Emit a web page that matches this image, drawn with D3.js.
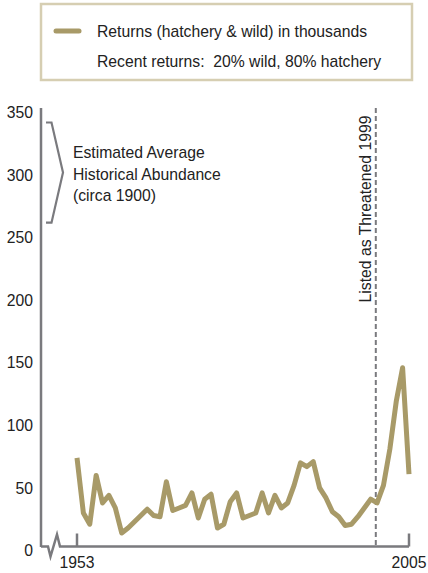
<!DOCTYPE html>
<html><head><meta charset="utf-8">
<script src="https://cdn.jsdelivr.net/npm/d3@7"></script>
<style>
html,body{margin:0;padding:0;background:#fff;}
text{font-family:"Liberation Sans",Arial,sans-serif;fill:#222;white-space:pre;}
</style></head>
<body>
<svg id="c" width="428" height="573"></svg>
<script>
// ---- data ----
const years = d3.range(1953, 2006);
const returns = [72,28,19,58,36,42,32,12,16,21,26,31,26,25,53,30,32,34,44,24,39,43,16,19,37,44,24,26,28,44,28,42,32,36,50,68,65,69,48,40,29,25,18,19,25,32,39,36,50,79,117,144,59];
const yTicks = [0,50,100,150,200,250,300,350];
const xTickLabels = [1953, 2005];
const listedYear = 1999;
const listedLineYear = 1999.8; // where the marker line sits on the year scale
const historicalRange = [260, 340];
const historicalMid = 300;
const legendLines = ["Returns (hatchery & wild) in thousands", "Recent returns:  20% wild, 80% hatchery"];
const annotationLines = ["Estimated Average", "Historical Abundance", "(circa 1900)"];

const svg = d3.select("#c");
const lineColor = "#a89a68", axisColor = "#7a7a7e";
const FS = 17, CONDENSE = 0.925;

const x = d3.scaleLinear().domain([1953, 2005]).range([77, 409]);
const y = d3.scaleLinear().domain([0, 350]).range([548, 110]);
const axisX = 41;

// legend
const lg = svg.append("g");
lg.append("rect").attr("x", 41).attr("y", 4).attr("width", 371).attr("height", 76)
  .attr("fill", "#fff").attr("stroke", "#d6ceb2").attr("stroke-width", 2.5);
lg.append("line").attr("x1", 56).attr("x2", 79).attr("y1", 31).attr("y2", 31)
  .attr("stroke", lineColor).attr("stroke-width", 5).attr("stroke-linecap", "round");
lg.selectAll("text.lg").data(legendLines).join("text").attr("class", "lg")
  .attr("x", 97).attr("y", (d, i) => 37 + i * 30).attr("font-size", FS).text(d => d);

// y axis
const yAxis = d3.axisLeft(y).tickValues(yTicks).tickSize(0).tickPadding(8);
const ga = svg.append("g").attr("transform", `translate(${axisX},0)`).call(yAxis);
ga.select(".domain").remove();
ga.selectAll("text").attr("font-size", FS).attr("dy", "0.45em").attr("fill", "#222")
  .attr("font-family", "Liberation Sans, Arial, sans-serif");
svg.append("line").attr("x1", axisX).attr("x2", axisX).attr("y1", 108).attr("y2", y(0) - 1)
  .attr("stroke", axisColor).attr("stroke-width", 2.5);

// x axis with break
const y0 = y(0) - 1.5;
svg.append("path").attr("d", `M${axisX},${y0} H48 L50.5,${y0+10} L57,${y0-12} L60,${y0} H${x(2005)}`)
  .attr("fill", "none").attr("stroke", axisColor).attr("stroke-width", 2.5).attr("stroke-linejoin", "miter");
svg.selectAll("line.xt").data(xTickLabels).join("line").attr("class", "xt")
  .attr("x1", d => x(d)).attr("x2", d => x(d)).attr("y1", y0 - 13).attr("y2", y0)
  .attr("stroke", axisColor).attr("stroke-width", 2.5);
svg.selectAll("text.xl").data(xTickLabels).join("text").attr("class", "xl")
  .attr("x", d => x(d)).attr("y", y0 + 21).attr("text-anchor", "middle").attr("font-size", FS).text(d => d);

// listed line
const lx = x(listedLineYear);
svg.append("line").attr("x1", lx).attr("x2", lx).attr("y1", 108).attr("y2", y0)
  .attr("stroke", axisColor).attr("stroke-width", 2).attr("stroke-dasharray", "5,3");
svg.append("text").attr("transform", `translate(${lx - 5},${209}) rotate(-90)`)
  .attr("text-anchor", "middle").attr("font-size", FS).text(`Listed as Threatened ${listedYear}`);

// bracket
const bt = y(historicalRange[1]), bb = y(historicalRange[0]), bm = y(historicalMid);
svg.append("path").attr("d", `M46,${bt} H51.5 L63,${bm} L51.5,${bb} H46`)
  .attr("fill", "none").attr("stroke", axisColor).attr("stroke-width", 2.2);
svg.selectAll("text.an").data(annotationLines).join("text").attr("class", "an")
  .attr("x", 73).attr("y", (d, i) => 158 + i * 21.5).attr("font-size", FS).text(d => d);

// data line
const line = d3.line().x((d, i) => x(years[i])).y(d => y(d));
svg.append("path").datum(returns).attr("d", line).attr("fill", "none")
  .attr("stroke", lineColor).attr("stroke-width", 5).attr("stroke-linejoin", "round");

// condensed type, like the reference face
svg.selectAll("text").each(function () {
  const w = this.getComputedTextLength();
  d3.select(this).attr("textLength", w * CONDENSE).attr("lengthAdjust", "spacingAndGlyphs");
});
</script>
</body></html>
